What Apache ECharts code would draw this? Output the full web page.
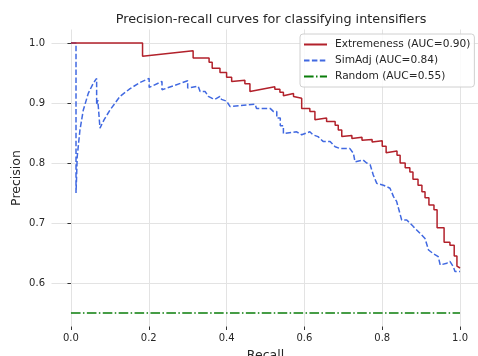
<!DOCTYPE html>
<html>
<head>
<meta charset="utf-8">
<script src="https://cdn.jsdelivr.net/npm/echarts@6/dist/echarts.min.js"></script>
<style>
  html, body { margin: 0; padding: 0; background: #fff; }
  #chart { width: 478px; height: 356px; }
</style>
</head>
<body>
<div id="chart"></div>
<script>
// values
const tickValuesX = [0, 0.2, 0.4, 0.6, 0.8, 1.0];
const tickValuesY = [0.6, 0.7, 0.8, 0.9, 1.0];

const extremenessRecall = [0, 0.184, 0.184, 0.314, 0.314, 0.355, 0.355, 0.363, 0.363, 0.383, 0.383, 0.400, 0.400, 0.413, 0.413, 0.447, 0.447, 0.460, 0.460, 0.524, 0.524, 0.537, 0.537, 0.546, 0.546, 0.572, 0.572, 0.593, 0.593, 0.614, 0.614, 0.627, 0.627, 0.657, 0.657, 0.679, 0.679, 0.687, 0.687, 0.696, 0.696, 0.722, 0.722, 0.748, 0.748, 0.774, 0.774, 0.800, 0.800, 0.810, 0.810, 0.838, 0.838, 0.846, 0.846, 0.859, 0.859, 0.871, 0.871, 0.879, 0.879, 0.892, 0.892, 0.902, 0.902, 0.910, 0.910, 0.920, 0.920, 0.933, 0.933, 0.941, 0.941, 0.959, 0.959, 0.974, 0.974, 0.985, 0.985, 0.992, 0.992, 1.0];
const extremenessPrecision = [1.0, 1.0, 0.978, 0.987, 0.975, 0.975, 0.968, 0.968, 0.958, 0.958, 0.951, 0.951, 0.943, 0.943, 0.936, 0.938, 0.932, 0.932, 0.919, 0.927, 0.923, 0.923, 0.918, 0.918, 0.912, 0.916, 0.911, 0.908, 0.891, 0.891, 0.886, 0.886, 0.872, 0.875, 0.869, 0.869, 0.863, 0.863, 0.855, 0.855, 0.844, 0.846, 0.841, 0.843, 0.838, 0.839, 0.835, 0.837, 0.828, 0.828, 0.817, 0.820, 0.813, 0.813, 0.800, 0.800, 0.792, 0.792, 0.785, 0.785, 0.773, 0.773, 0.763, 0.763, 0.752, 0.752, 0.742, 0.742, 0.730, 0.730, 0.722, 0.722, 0.692, 0.692, 0.668, 0.668, 0.663, 0.663, 0.645, 0.645, 0.628, 0.625];

const simadjRecall = [0, 0.013, 0.013, 0.0146, 0.016, 0.0231, 0.0316, 0.0445, 0.0574, 0.066, 0.066, 0.069, 0.0746, 0.085, 0.100, 0.126, 0.152, 0.177, 0.201, 0.201, 0.234, 0.234, 0.300, 0.300, 0.327, 0.332, 0.345, 0.353, 0.362, 0.370, 0.383, 0.387, 0.400, 0.409, 0.473, 0.477, 0.512, 0.520, 0.529, 0.529, 0.538, 0.538, 0.546, 0.546, 0.580, 0.593, 0.614, 0.622, 0.635, 0.648, 0.666, 0.679, 0.692, 0.717, 0.726, 0.730, 0.751, 0.760, 0.769, 0.777, 0.786, 0.803, 0.820, 0.829, 0.837, 0.850, 0.863, 0.871, 0.880, 0.897, 0.910, 0.919, 0.931, 0.944, 0.949, 0.966, 0.974, 0.983, 0.987, 1.0];
const simadjPrecision = [1.0, 1.0, 0.750, 0.780, 0.810, 0.855, 0.888, 0.916, 0.933, 0.941, 0.897, 0.905, 0.858, 0.872, 0.888, 0.911, 0.924, 0.934, 0.941, 0.926, 0.936, 0.922, 0.937, 0.925, 0.928, 0.919, 0.919, 0.911, 0.908, 0.906, 0.911, 0.906, 0.903, 0.894, 0.898, 0.891, 0.891, 0.886, 0.886, 0.875, 0.875, 0.862, 0.862, 0.849, 0.852, 0.847, 0.852, 0.847, 0.844, 0.836, 0.836, 0.827, 0.824, 0.824, 0.816, 0.802, 0.805, 0.800, 0.797, 0.780, 0.766, 0.763, 0.758, 0.744, 0.736, 0.705, 0.705, 0.700, 0.694, 0.683, 0.674, 0.655, 0.649, 0.644, 0.630, 0.633, 0.636, 0.627, 0.619, 0.619];

const randomRecall = [0, 1.0];
const randomPrecision = [0.55, 0.55];

const seriesNames = ['Extremeness (AUC=0.90)', 'SimAdj (AUC=0.84)', 'Random (AUC=0.55)'];

function zip(xs, ys) {
  return xs.map(function (x, i) { return [x, ys[i]]; });
}

const font = 'DejaVu Sans';
const chart = echarts.init(document.getElementById('chart'));

const axisCommon = {
  type: 'value',
  axisLine: { show: false },
  axisTick: { show: true, length: 3.5, lineStyle: { color: '#333', width: 1 } },
  axisLabel: { color: '#262626', fontFamily: font, fontSize: 10, margin: 6.5 },
  splitLine: { show: true, lineStyle: { color: '#e3e3e3', width: 1 } },
  nameLocation: 'middle',
  nameMoveOverlap: false,
  nameTextStyle: { color: '#262626', fontFamily: font, fontSize: 12.5 }
};

chart.setOption({
  animation: false,
  title: {
    text: 'Precision-recall curves for classifying intensifiers',
    left: 266,
    textAlign: 'center',
    top: 8,
    textStyle: { fontFamily: font, fontSize: 12.8, fontWeight: 'normal', color: '#262626' }
  },
  legend: {
    orient: 'vertical',
    left: 300,
    top: 34,
    padding: [5, 4, 5, 3],
    itemWidth: 23,
    itemHeight: 10,
    itemGap: 5,
    backgroundColor: 'rgba(255,255,255,0.85)',
    borderColor: '#d0d0d0',
    borderWidth: 1,
    borderRadius: 3,
    itemStyle: { opacity: 0 },
    textStyle: { fontFamily: font, fontSize: 10.6, color: '#262626', padding: [0, 0, 0, 3] },
    data: seriesNames
  },
  grid: { left: 51.5, right: -1.5, top: 29.5, bottom: 29.5, containLabel: false, outerBoundsMode: 'none' },
  xAxis: Object.assign({}, axisCommon, {
    min: -0.05,
    max: 1.05,
    name: 'Recall',
    nameGap: 23,
    axisTick: Object.assign({}, axisCommon.axisTick, { customValues: tickValuesX }),
    axisLabel: Object.assign({}, axisCommon.axisLabel, {
      customValues: tickValuesX,
      formatter: function (v) { return v.toFixed(1); }
    }),
    splitLine: Object.assign({}, axisCommon.splitLine, { customValues: tickValuesX })
  }),
  yAxis: Object.assign({}, axisCommon, {
    min: 0.5275,
    max: 1.0225,
    name: 'Precision',
    nameGap: 28,
    axisTick: Object.assign({}, axisCommon.axisTick, { customValues: tickValuesY }),
    axisLabel: Object.assign({}, axisCommon.axisLabel, {
      customValues: tickValuesY,
      formatter: function (v) { return v.toFixed(1); }
    }),
    splitLine: Object.assign({}, axisCommon.splitLine, { customValues: tickValuesY })
  }),
  series: [
    {
      name: seriesNames[0],
      type: 'line',
      symbol: 'none',
      data: zip(extremenessRecall, extremenessPrecision),
      lineStyle: { color: '#b2212b', width: 1.5 },
      itemStyle: { color: '#b2212b' },
      z: 3
    },
    {
      name: seriesNames[1],
      type: 'line',
      symbol: 'none',
      data: zip(simadjRecall, simadjPrecision),
      lineStyle: { color: '#4169e1', width: 1.5, type: [5.5, 2.4] },
      itemStyle: { color: '#4169e1' },
      z: 2
    },
    {
      name: seriesNames[2],
      type: 'line',
      symbol: 'none',
      data: zip(randomRecall, randomPrecision),
      lineStyle: { color: '#0a7d0a', width: 1.5, type: [9.6, 2.4, 1.5, 2.4] },
      itemStyle: { color: '#0a7d0a' },
      z: 2
    }
  ]
});
</script>
</body>
</html>
